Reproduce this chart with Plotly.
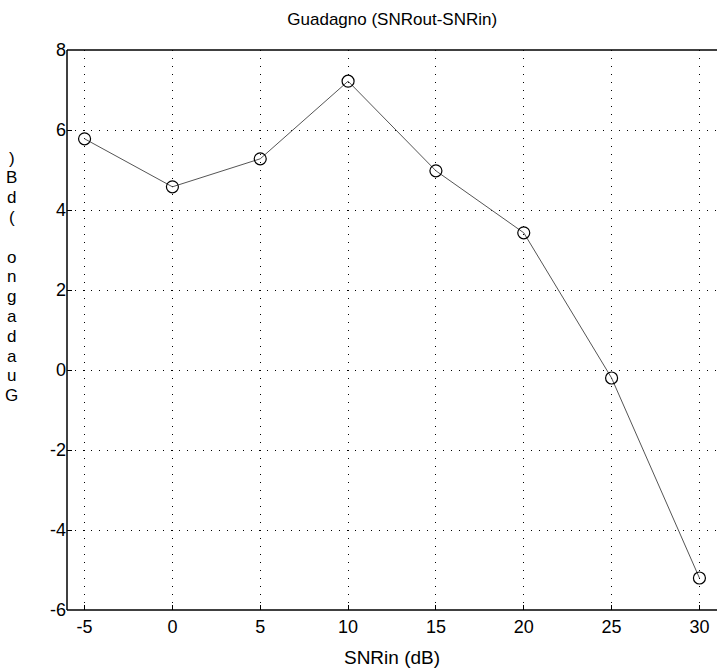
import plotly.graph_objects as go

# Input SNR values (dB) and the corresponding gain SNRout-SNRin (dB)
snr_in = [-5, 0, 5, 10, 15, 20, 25, 30]
gain_db = [5.78, 4.58, 5.28, 7.22, 4.98, 3.43, -0.2, -5.2]

x_ticks = [-5, 0, 5, 10, 15, 20, 25, 30]
y_ticks = [-6, -4, -2, 0, 2, 4, 6, 8]

# Y label drawn one character per line, bottom-to-top
y_label = "Guadagno (dB)"
y_label_chars = list(reversed(y_label))

font_family = "Liberation Sans, Arial, Helvetica, sans-serif"
dot_grid = "1px,7px"

fig = go.Figure()
fig.add_trace(go.Scatter(
    x=snr_in, y=gain_db,
    mode="lines+markers",
    line=dict(color="#555555", width=1),
    marker=dict(symbol="circle-open", size=12, color="#000000", line=dict(width=1.2)),
    showlegend=False,
))

fig.update_layout(
    width=717, height=670,
    margin=dict(l=67, r=0, t=50, b=60),
    paper_bgcolor="white",
    plot_bgcolor="white",
    font=dict(family=font_family, size=18, color="#000"),
    title=dict(text="Guadagno (SNRout-SNRin)", x=0.547, xanchor="center",
               y=1 - 19 / 670, yanchor="middle", font=dict(size=17)),
    xaxis=dict(
        range=[-6, 31], tickvals=x_ticks, ticktext=[str(v) for v in x_ticks],
        showline=False,
        ticks="inside", ticklen=5, tickcolor="#000",
        showgrid=True, gridcolor="#000", gridwidth=1, griddash=dot_grid,
        zeroline=False, tickfont=dict(size=18), ticklabelstandoff=4,
        title=dict(text="SNRin (dB)", font=dict(size=19), standoff=14),
    ),
    yaxis=dict(
        range=[-6, 8], tickvals=y_ticks, ticktext=[str(v) for v in y_ticks],
        showline=False,
        ticks="inside", ticklen=5, tickcolor="#000",
        showgrid=True, gridcolor="#000", gridwidth=1, griddash=dot_grid,
        zeroline=False, tickfont=dict(size=18),
    ),
)

# Frame: left, bottom and top borders; the right side stays open
frame = dict(color="#000", width=1.5)
fig.add_shape(type="line", xref="paper", yref="paper", x0=0, x1=1, y0=1, y1=1, line=frame)
fig.add_shape(type="line", xref="paper", yref="paper", x0=0, x1=1, y0=0, y1=0, line=frame)
fig.add_shape(type="line", xref="paper", yref="paper", x0=0, x1=0, y0=0, y1=1, line=frame)

# Stacked y label, one annotation per character
line_step = 19.8 / 560  # paper units per text line
top_y = (610 - 158) / 560
for i, ch in enumerate(y_label_chars):
    if ch == " ":
        continue
    fig.add_annotation(
        text=ch, xref="paper", yref="paper",
        x=-0.085, y=top_y - i * line_step, xanchor="center", yanchor="middle",
        showarrow=False, font=dict(size=17),
    )

fig.write_html("out.html")
